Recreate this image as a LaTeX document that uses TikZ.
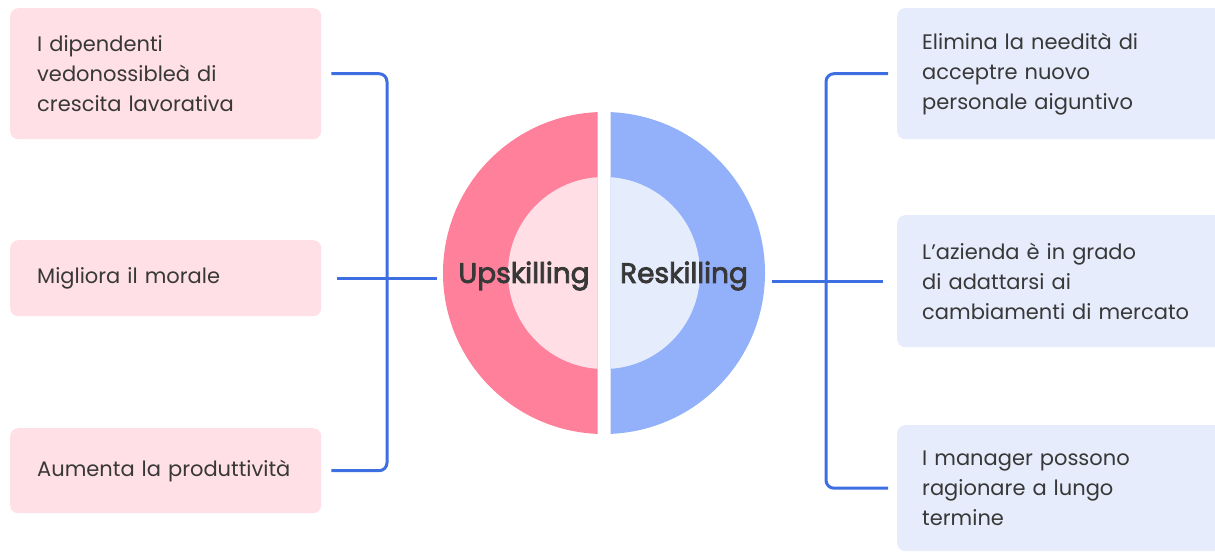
\documentclass[tikz,border=0pt]{standalone}
\usepackage{fontspec}
\setmainfont{Poppins}
\newfontfamily\ringfont{Poppins}[FakeBold=3]
\usepackage{tikz}
\usetikzlibrary{calc}
\definecolor{boxpink}{HTML}{FFE0E6}
\definecolor{boxblue}{HTML}{E6ECFB}
\definecolor{ringpink}{HTML}{FF809B}
\definecolor{ringblue}{HTML}{93B0FB}
\definecolor{innerpink}{HTML}{FFDFE5}
\definecolor{innerblue}{HTML}{E5ECFC}
\definecolor{linkblue}{HTML}{3D6FE3}
\definecolor{txt}{HTML}{383838}
\tikzset{upbox/.style={fill=boxpink, rounded corners=8pt, anchor=north west,
  text=txt, align=left, inner xsep=27pt, inner ysep=0pt, text width=257pt,
  font=\fontsize{21}{30}\selectfont}}
\tikzset{rebox/.style={fill=boxblue, rounded corners=8pt, anchor=north west,
  text=txt, align=left, inner xsep=25pt, inner ysep=0pt, text width=280pt,
  font=\fontsize{21}{30}\selectfont}}
\tikzset{link/.style={draw=linkblue, line width=3pt, rounded corners=8pt}}
\tikzset{ringlabel/.style={text=txt, font=\fontsize{28}{30}\ringfont}}

\begin{document}
\begin{tikzpicture}[x=1pt, y=-1pt]
\useasboundingbox (0,0) rectangle (1215,552);

\node [upbox, minimum height=131pt] (up1) at (10,8) {I dipendenti\\vedonossibleà di\\crescita lavorativa};
\node [upbox, minimum height=76pt] (up2) at (10,240) {Migliora il morale};
\node [upbox, minimum height=85pt] (up3) at (10,428) {Aumenta la produttività};

\node [rebox, minimum height=131pt] (re1) at (897,8) {Elimina la needità di\\acceptre nuovo\\personale aiguntivo};
\node [rebox, minimum height=132pt] (re2) at (897,215) {L'azienda è in grado\\di adattarsi ai\\cambiamenti di mercato};
\node [rebox, minimum height=126pt] (re3) at (897,425) {I manager possono\\ragionare a lungo\\termine};

\node [circle, minimum size=322pt, inner sep=0pt] (ring) at (604,273) {};
\begin{scope}
\clip (0,0) rectangle (597.5,552);
\fill [ringpink] (ring.center) circle [radius=161];
\fill [innerpink] (ring.center) circle [radius=96];
\end{scope}
\begin{scope}
\clip (610.5,0) rectangle (1215,552);
\fill [ringblue] (ring.center) circle [radius=161];
\fill [innerblue] (ring.center) circle [radius=96];
\end{scope}
\node [ringlabel] (up) at (524,276) {Upskilling};
\node [ringlabel] (re) at (684,276) {Reskilling};

\coordinate (upbus) at (387,278);
\coordinate (rebus) at (826,280);
\draw [link] ([xshift=10pt]up1.east) -| (upbus) |- ([xshift=10pt]up3.east);
\draw [link] ([xshift=16pt]up2.east) -- ([xshift=-6pt]ring.west |- up2.east);
\draw [link] ([xshift=-9pt]re1.west) -| (rebus) |- ([xshift=-9pt]re3.west);
\draw [link] ([xshift=-14pt]re2.west) -- ([xshift=7pt]ring.east |- re2.west);

\end{tikzpicture}
\end{document}
